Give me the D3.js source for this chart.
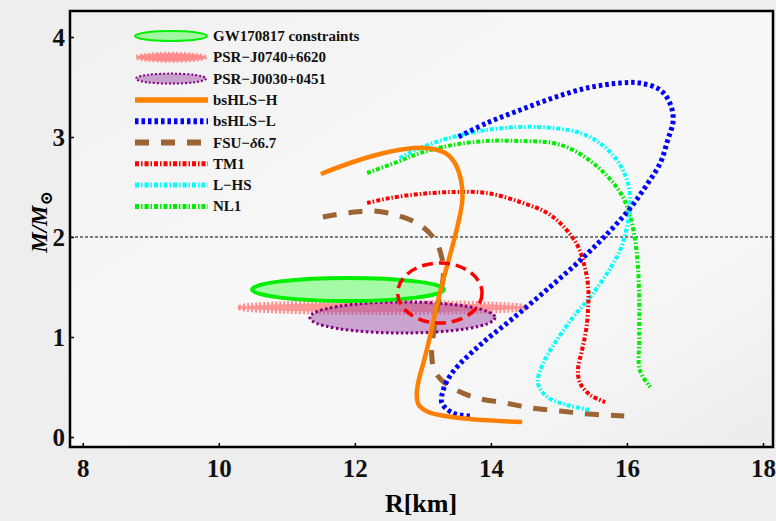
<!DOCTYPE html>
<html>
<head>
<meta charset="utf-8">
<script src="https://cdn.jsdelivr.net/npm/d3@7"></script>
<style>
  body { margin: 0; background: #efefef; }
  text { font-family: "Liberation Serif", "Times New Roman", serif; font-weight: bold; }
</style>
</head>
<body>
<div id="chart"></div>
<script>
// mass-radius curves, [R km, M/Msun]
var bsHLSH = [[11.50,2.63],[11.93,2.74],[12.37,2.83],[12.74,2.88],[13.03,2.89],[13.33,2.84],[13.47,2.74],
  [13.56,2.57],[13.58,2.37],[13.53,2.17],[13.47,2.00],[13.38,1.77],[13.28,1.52],[13.19,1.27],[13.11,1.02],
  [13.02,0.77],[12.94,0.57],[12.91,0.42],[12.94,0.32],[13.08,0.25],[13.33,0.21],[13.69,0.18],[14.13,0.16],[14.46,0.15]];
var bsHLSL = [[13.69,0.21],[13.44,0.24],[13.28,0.34],[13.30,0.47],[13.44,0.65],[13.84,0.92],[14.33,1.19],
  [14.87,1.50],[15.35,1.79],[15.75,2.06],[16.05,2.29],[16.30,2.53],[16.49,2.74],[16.60,2.97],[16.68,3.17],
  [16.63,3.34],[16.49,3.47],[16.19,3.54],[15.90,3.54],[15.41,3.49],[14.91,3.39],[14.43,3.27],[13.94,3.14],[13.52,3.00]];
var fsu = [[11.53,2.20],[11.88,2.24],[12.27,2.26],[12.66,2.21],[12.96,2.12],[13.18,1.97],[13.28,1.79],
  [13.30,1.60],[13.25,1.42],[13.19,1.22],[13.15,1.00],[13.13,0.82],[13.18,0.65],[13.36,0.52],[13.74,0.40],
  [14.21,0.34],[14.60,0.29],[15.02,0.26],[15.43,0.23],[15.96,0.21]];
var tm1 = [[12.18,2.34],[12.52,2.39],[12.96,2.43],[13.44,2.45],[13.94,2.44],[14.43,2.35],[14.83,2.24],
  [15.06,2.11],[15.27,1.92],[15.38,1.70],[15.43,1.50],[15.43,1.30],[15.40,1.07],[15.34,0.87],[15.28,0.67],
  [15.31,0.54],[15.46,0.42],[15.68,0.35]];
var lhs = [[12.66,2.79],[12.96,2.89],[13.44,3.00],[13.94,3.07],[14.43,3.10],[14.91,3.09],[15.31,3.04],
  [15.60,2.94],[15.85,2.77],[16.00,2.57],[16.05,2.34],[16.00,2.10],[15.90,1.87],[15.71,1.64],[15.46,1.40],
  [15.21,1.20],[14.97,0.97],[14.77,0.74],[14.69,0.54],[14.83,0.40],[15.12,0.32],[15.46,0.27]];
var nl1 = [[12.18,2.64],[12.66,2.76],[12.96,2.84],[13.44,2.92],[13.94,2.96],[14.43,2.96],[14.91,2.94],
  [15.21,2.87],[15.50,2.74],[15.75,2.58],[15.94,2.40],[16.05,2.20],[16.12,1.97],[16.16,1.72],[16.18,1.37],
  [16.18,0.97],[16.19,0.67],[16.34,0.50]];

// constraint regions: [centre R, centre M, half width R, half height M]
var gwRegion = [11.90, 1.475, 1.41, 0.115];
var j0740Region = [12.41, 1.295, 2.09, 0.045];
var j0030Region = [12.70, 1.195, 1.36, 0.155];
var circleRegion = [13.25, 1.44, 0.62, 0.30];

var xTicks = [8, 10, 12, 14, 16, 18];
var yTicks = [0, 1, 2, 3, 4];
var legendLabels = ["GW170817 constraints", "PSR\u2212J0740+6620", "PSR\u2212J0030+0451", "bsHLS\u2212H",
  "bsHLS\u2212L", "FSU\u2212", "TM1", "L\u2212HS", "NL1"];

var svgWidth = 776;
var svgHeight = 521;
var margin = { top: 11, right: 3, bottom: 74, left: 70 };
var chartWidth = svgWidth - margin.left - margin.right;
var chartHeight = svgHeight - margin.top - margin.bottom;

var svg = d3.select("#chart").append("svg")
  .attr("width", svgWidth)
  .attr("height", svgHeight);

var defs = svg.append("defs");
var grad = defs.append("linearGradient").attr("id", "bg")
  .attr("x1", 0).attr("y1", 0).attr("x2", 1).attr("y2", 1);
grad.append("stop").attr("offset", "0%").attr("stop-color", "#f0f0f0");
grad.append("stop").attr("offset", "45%").attr("stop-color", "#f8f8f8");
grad.append("stop").attr("offset", "75%").attr("stop-color", "#f6f6f6");
grad.append("stop").attr("offset", "100%").attr("stop-color", "#ececec");

svg.append("rect").attr("width", svgWidth).attr("height", svgHeight).attr("fill", "#eeeeee");

var g = svg.append("g").attr("transform", `translate(${margin.left}, ${margin.top})`);

var x = d3.scaleLinear().domain([7.813, 18.147]).range([0, chartWidth]);
var y = d3.scaleLinear().domain([-0.1, 4.26]).range([chartHeight, 0]);

g.append("rect").attr("width", chartWidth).attr("height", chartHeight).attr("fill", "url(#bg)");

// M = 2 reference line
g.append("line")
  .attr("x1", 0).attr("x2", chartWidth)
  .attr("y1", y(2)).attr("y2", y(2))
  .attr("stroke", "#000").attr("stroke-width", 1).attr("stroke-dasharray", "3,2");

function ellipse(region) {
  return g.append("ellipse")
    .attr("cx", x(region[0]))
    .attr("cy", y(region[1]))
    .attr("rx", x(region[0] + region[2]) - x(region[0]))
    .attr("ry", y(region[1] - region[3]) - y(region[1]));
}

ellipse(j0740Region)
  .attr("fill", "#ff8a8a").attr("fill-opacity", 0.85)
  .attr("stroke", "#ff9090").attr("stroke-width", 6).attr("stroke-dasharray", "2,2");
ellipse(j0030Region)
  .attr("fill", "#a050a8").attr("fill-opacity", 0.5)
  .attr("stroke", "#800080").attr("stroke-width", 3).attr("stroke-dasharray", "2.5,2.5");
ellipse(gwRegion)
  .attr("fill", "#40ff40").attr("fill-opacity", 0.45)
  .attr("stroke", "#00ee00").attr("stroke-width", 4);

var line = d3.line()
  .x(d => x(d[0]))
  .y(d => y(d[1]))
  .curve(d3.curveCatmullRom.alpha(0.5));

var series = [
  { data: nl1, color: "#00ee00", width: 4, dash: "4,2,1.5,2" },
  { data: lhs, color: "#00ffff", width: 4, dash: "4,2,1.5,2" },
  { data: tm1, color: "#ff0000", width: 4, dash: "4,2,1.5,2" },
  { data: fsu, color: "#9b6432", width: 5, dash: "14,12" },
  { data: bsHLSL, color: "#0000ff", width: 5, dash: "3.5,3" },
  { data: bsHLSH, color: "#ff8000", width: 4.5, dash: null }
];

g.selectAll(".curve")
  .data(series)
  .enter()
  .append("path")
  .attr("class", "curve")
  .attr("d", d => line(d.data))
  .attr("fill", "none")
  .attr("stroke", d => d.color)
  .attr("stroke-width", d => d.width)
  .attr("stroke-dasharray", d => d.dash);

// dashed circle around the canonical star
ellipse(circleRegion)
  .attr("fill", "none")
  .attr("stroke", "#ff0000").attr("stroke-width", 3.5).attr("stroke-dasharray", "11,6");

// axes
var bottomAxis = d3.axisBottom(x).tickValues(xTicks).tickSize(-4).tickPadding(12).tickFormat(d3.format("d"));
var leftAxis = d3.axisLeft(y).tickValues(yTicks).tickSize(-4).tickPadding(5).tickFormat(d3.format("d"));

var xAxis = g.append("g").attr("transform", `translate(0, ${chartHeight})`).call(bottomAxis);
var yAxis = g.append("g").call(leftAxis);
[xAxis, yAxis].forEach(function(a) {
  a.select(".domain").remove();
  a.selectAll("line").attr("stroke", "#000").attr("stroke-width", 1.5);
  a.selectAll("text").attr("font-size", 25).attr("font-family", "Liberation Serif, serif")
    .attr("font-weight", "bold").attr("fill", "#111");
});

g.append("rect")
  .attr("width", chartWidth).attr("height", chartHeight)
  .attr("fill", "none").attr("stroke", "#000").attr("stroke-width", 2.5);

// axis titles
svg.append("text")
  .attr("x", 421).attr("y", 512)
  .attr("text-anchor", "middle")
  .attr("font-size", 26)
  .text("R[km]");

var yTitle = svg.append("text")
  .attr("transform", "translate(47, 222) rotate(-90)")
  .attr("text-anchor", "middle")
  .attr("font-size", 23)
  .attr("font-style", "italic");
yTitle.append("tspan").text("M/M");
yTitle.append("tspan").attr("font-size", 17).attr("dy", 5).attr("font-style", "normal")
  .attr("font-family", "DejaVu Serif, serif").text("\u2299");

// legend
var legend = svg.append("g").attr("transform", "translate(135, 36)");
var rowH = 21.3;

legend.append("ellipse").attr("cx", 36).attr("cy", 0).attr("rx", 36).attr("ry", 5)
  .attr("fill", "#40ff40").attr("fill-opacity", 0.45).attr("stroke", "#00ee00").attr("stroke-width", 2);
legend.append("ellipse").attr("cx", 36).attr("cy", rowH).attr("rx", 35).attr("ry", 4)
  .attr("fill", "#ff8a8a").attr("stroke", "#ff9090").attr("stroke-width", 3).attr("stroke-dasharray", "2,2");
legend.append("ellipse").attr("cx", 36).attr("cy", rowH * 2).attr("rx", 35).attr("ry", 5)
  .attr("fill", "#a050a8").attr("fill-opacity", 0.5).attr("stroke", "#800080").attr("stroke-width", 2)
  .attr("stroke-dasharray", "2,2");

var legendLines = [series[5], series[4], series[3], series[2], series[1], series[0]];
legendLines.forEach(function(s, i) {
  legend.append("line")
    .attr("x1", 0).attr("x2", 73)
    .attr("y1", rowH * (i + 3)).attr("y2", rowH * (i + 3))
    .attr("stroke", s.color)
    .attr("stroke-width", s.width + 1)
    .attr("stroke-dasharray", s.dash);
});

legendLabels.forEach(function(t, i) {
  var txt = legend.append("text")
    .attr("x", 78).attr("y", rowH * i + 5)
    .attr("font-size", 15)
    .attr("fill", "#111")
    .text(t);
  if (i === 5) {
    txt.append("tspan").attr("font-style", "italic").text("\u03b4");
    txt.append("tspan").text("6.7");
  }
});
</script>
</body>
</html>
